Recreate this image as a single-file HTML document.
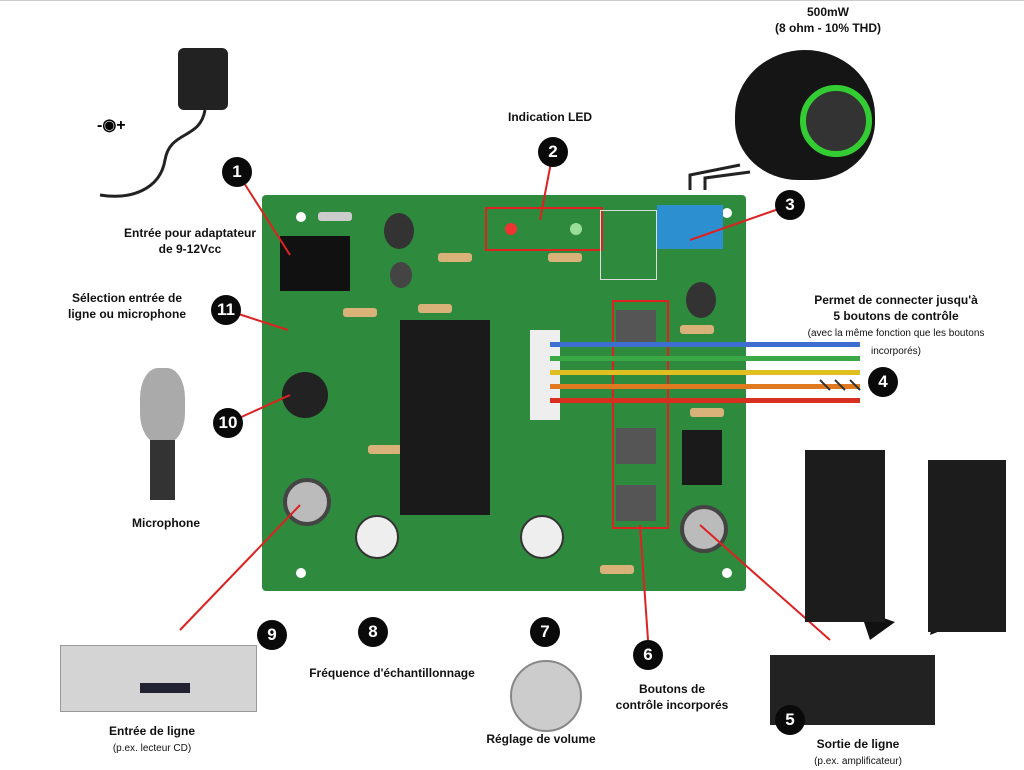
<!DOCTYPE html>
<html><head><meta charset="utf-8"><style>
body{margin:0;width:1024px;height:768px;background:#fff;position:relative;overflow:hidden;font-family:"Liberation Sans",sans-serif}
.a{position:absolute}
.t{position:absolute;font-weight:bold;font-size:12px;color:#111;text-align:center;transform:translateX(-50%);white-space:nowrap;line-height:16px}
.s{font-weight:normal;font-size:10px}
.n{position:absolute;width:30px;height:30px;border-radius:50%;background:#0a0a0a;color:#fff;font-weight:bold;font-size:17px;text-align:center;line-height:30px;transform:translate(-50%,-50%)}
.pcb{left:262px;top:195px;width:484px;height:396px;background:#2e8a3c;border-radius:4px}
.hole{position:absolute;width:10px;height:10px;border-radius:50%;background:#fff}
.r{position:absolute;width:34px;height:9px;background:#d9b27a;border-radius:3px}
</style></head><body>
<div style="position:absolute;left:0;top:0;width:1024px;height:1px;background:#ccc"></div>

<div class="a pcb"></div>
<div class="hole" style="left:296px;top:212px"></div>
<div class="hole" style="left:722px;top:208px"></div>
<div class="hole" style="left:296px;top:568px"></div>
<div class="hole" style="left:722px;top:568px"></div>
<div class="r" style="left:318px;top:212px;background:#ccc"></div>
<div class="r" style="left:438px;top:253px"></div>
<div class="r" style="left:548px;top:253px"></div>
<div class="r" style="left:343px;top:308px"></div>
<div class="r" style="left:418px;top:304px"></div>
<div class="r" style="left:680px;top:325px"></div>
<div class="r" style="left:690px;top:408px"></div>
<div class="r" style="left:600px;top:565px"></div>
<div class="r" style="left:368px;top:445px"></div>
<div class="a" style="left:280px;top:236px;width:70px;height:55px;background:#111"></div>
<div class="a" style="left:400px;top:320px;width:90px;height:195px;background:#1a1a1a"></div>
<div class="a" style="left:384px;top:213px;width:30px;height:36px;border-radius:50%;background:#333"></div>
<div class="a" style="left:390px;top:262px;width:22px;height:26px;border-radius:50%;background:#444"></div>
<div class="a" style="left:686px;top:282px;width:30px;height:36px;border-radius:50%;background:#333"></div>
<div class="a" style="left:282px;top:372px;width:46px;height:46px;border-radius:50%;background:#222"></div>
<div class="a" style="left:682px;top:430px;width:40px;height:55px;background:#1a1a1a"></div>
<div class="a" style="left:657px;top:205px;width:66px;height:44px;background:#2b8fd0"></div>
<div class="a" style="left:283px;top:478px;width:40px;height:40px;border-radius:50%;background:#bbb;border:4px solid #444"></div>
<div class="a" style="left:680px;top:505px;width:40px;height:40px;border-radius:50%;background:#bbb;border:4px solid #444"></div>
<div class="a" style="left:355px;top:515px;width:40px;height:40px;border-radius:50%;background:#eee;border:2px solid #333"></div>
<div class="a" style="left:520px;top:515px;width:40px;height:40px;border-radius:50%;background:#eee;border:2px solid #333"></div>
<div class="a" style="left:616px;top:310px;width:40px;height:36px;background:#555"></div>
<div class="a" style="left:616px;top:428px;width:40px;height:36px;background:#555"></div>
<div class="a" style="left:616px;top:485px;width:40px;height:36px;background:#555"></div>
<div class="a" style="left:530px;top:330px;width:30px;height:90px;background:#eee"></div>
<div class="a" style="left:485px;top:207px;width:114px;height:40px;border:2px solid #d22"></div>
<div class="a" style="left:505px;top:223px;width:12px;height:12px;border-radius:50%;background:#e33"></div>
<div class="a" style="left:570px;top:223px;width:12px;height:12px;border-radius:50%;background:#9d9"></div>
<div class="a" style="left:600px;top:210px;width:55px;height:68px;border:1px solid #ddd"></div>
<div class="a" style="left:612px;top:300px;width:53px;height:225px;border:2px solid #d22"></div>
<div class="a" style="left:550px;top:342px;width:310px;height:5px;background:#3c6fd0"></div>
<div class="a" style="left:550px;top:356px;width:310px;height:5px;background:#3aa845"></div>
<div class="a" style="left:550px;top:370px;width:310px;height:5px;background:#e0c020"></div>
<div class="a" style="left:550px;top:384px;width:310px;height:5px;background:#e07a20"></div>
<div class="a" style="left:550px;top:398px;width:310px;height:5px;background:#d83020"></div>

<svg class="a" style="left:0;top:0" width="1024" height="768">
<g stroke="#d22" stroke-width="2">
<line x1="237" y1="172" x2="290" y2="255"/>
<line x1="553" y1="152" x2="540" y2="220"/>
<line x1="790" y1="205" x2="690" y2="240"/>
<line x1="300" y1="505" x2="180" y2="630"/>
<line x1="640" y1="525" x2="648" y2="640"/>
<line x1="700" y1="525" x2="830" y2="640"/>
<line x1="226" y1="310" x2="288" y2="330"/>
<line x1="228" y1="423" x2="290" y2="395"/>
</g>
<path d="M205 110 C200 140 170 130 165 160 C160 190 130 200 100 195" stroke="#222" stroke-width="3" fill="none"/>
<path d="M690 190 L690 175 L740 165 M705 190 L705 178 L750 172" stroke="#222" stroke-width="3" fill="none"/>
<path d="M820 380 L830 390 M835 380 L845 390 M850 380 L860 390" stroke="#333" stroke-width="2"/>
<text x="97" y="130" font-size="16" font-weight="bold" font-family="Liberation Sans">-◉+</text>
<path d="M870 640 L860 610 L895 622 Z M930 635 L935 615 L955 625 Z" fill="#111"/>
</svg>

<div class="a" style="left:178px;top:48px;width:50px;height:62px;background:#222;border-radius:6px"></div>
<div class="a" style="left:735px;top:50px;width:140px;height:130px;border-radius:50% 50% 45% 45%;background:#151515"></div>
<div class="a" style="left:800px;top:85px;width:60px;height:60px;border-radius:50%;border:6px solid #3c3;background:#333"></div>
<div class="a" style="left:140px;top:368px;width:45px;height:75px;border-radius:40%;background:#aaa"></div>
<div class="a" style="left:150px;top:440px;width:25px;height:60px;background:#333"></div>
<div class="a" style="left:60px;top:645px;width:195px;height:65px;background:#d4d4d4;border:1px solid #999"></div>
<div class="a" style="left:140px;top:683px;width:50px;height:10px;background:#223"></div>
<div class="a" style="left:805px;top:450px;width:80px;height:172px;background:#1c1c1c"></div>
<div class="a" style="left:928px;top:460px;width:78px;height:172px;background:#1c1c1c"></div>
<div class="a" style="left:770px;top:655px;width:165px;height:70px;background:#222"></div>
<div class="a" style="left:510px;top:660px;width:68px;height:68px;border-radius:50%;background:#ccc;border:2px solid #888"></div>

<div class="n" style="left:237px;top:172px">1</div>
<div class="n" style="left:553px;top:152px">2</div>
<div class="n" style="left:790px;top:205px">3</div>
<div class="n" style="left:883px;top:382px">4</div>
<div class="n" style="left:790px;top:720px">5</div>
<div class="n" style="left:648px;top:655px">6</div>
<div class="n" style="left:545px;top:632px">7</div>
<div class="n" style="left:373px;top:632px">8</div>
<div class="n" style="left:272px;top:635px">9</div>
<div class="n" style="left:228px;top:423px">10</div>
<div class="n" style="left:226px;top:310px">11</div>

<div class="t" style="left:828px;top:4px">500mW<br>(8 ohm - 10% THD)</div>
<div class="t" style="left:550px;top:109px">Indication LED</div>
<div class="t" style="left:190px;top:225px">Entrée pour adaptateur<br>de 9-12Vcc</div>
<div class="t" style="left:127px;top:290px">Sélection entrée de<br>ligne ou microphone</div>
<div class="t" style="left:896px;top:292px">Permet de connecter jusqu'à<br>5 boutons de contrôle<br><span class="s">(avec la même fonction que les boutons<br>incorporés)</span></div>
<div class="t" style="left:166px;top:515px">Microphone</div>
<div class="t" style="left:392px;top:665px">Fréquence d'échantillonnage</div>
<div class="t" style="left:672px;top:681px">Boutons de<br>contrôle incorporés</div>
<div class="t" style="left:541px;top:731px">Réglage de volume</div>
<div class="t" style="left:152px;top:723px">Entrée de ligne<br><span class="s">(p.ex. lecteur CD)</span></div>
<div class="t" style="left:858px;top:736px">Sortie de ligne<br><span class="s">(p.ex. amplificateur)</span></div>
</body></html>
